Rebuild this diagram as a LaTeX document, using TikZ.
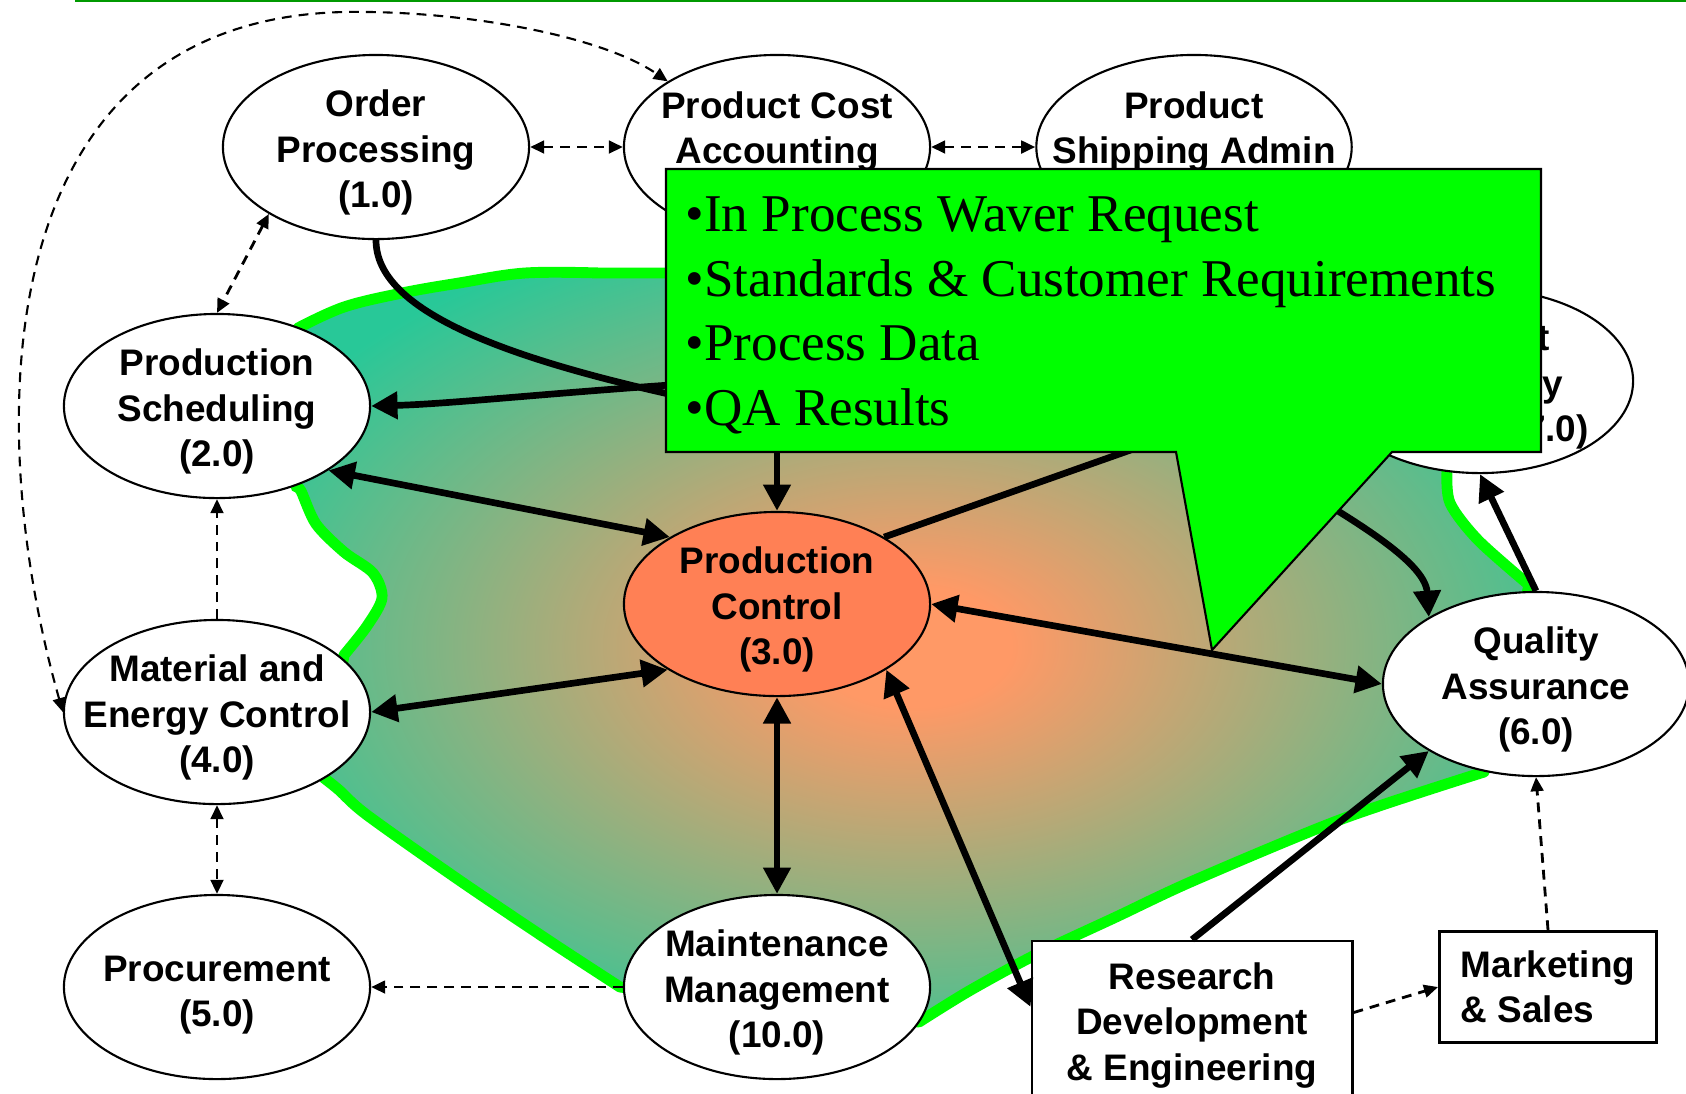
\documentclass[tikz,border=0pt]{standalone}
\usepackage{fontspec}
\setmainfont{Liberation Serif}
\setsansfont{Liberation Sans}
\usetikzlibrary{shapes.geometric, arrows.meta}

\definecolor{blobin}{RGB}{255,153,102}
\definecolor{blobout}{RGB}{40,200,152}
\definecolor{ctrlfill}{RGB}{255,128,85}
\definecolor{notegreen}{RGB}{0,255,0}
\definecolor{rulegreen}{RGB}{0,153,0}

\pgfdeclareradialshading{blobshade}{\pgfpointorigin}{color(0bp)=(blobin); color(4bp)=(blobin); color(30bp)=(blobout); color(100bp)=(blobout)}

\newcommand{\procfont}{\sffamily\bfseries\fontsize{10.5}{12.86}\selectfont}
\newcommand{\notefont}{\rmfamily\fontsize{15.1}{18.35}\selectfont}
\newcommand{\liftline}[1][10.8pt]{\rule{0pt}{#1}}

\tikzset{
	proc/.style={ellipse, draw, line width=0.6pt, fill=white, minimum width=3.06cm, minimum height=1.84cm, inner xsep=-0.3cm, inner ysep=-0.1cm, align=center, font=\procfont},
	ext/.style={rectangle, draw, line width=0.8pt, fill=white, inner sep=0pt, align=center, font=\procfont},
	flow/.style={line width=1.9pt, >={Triangle[length=7.5pt, width=7.5pt]}},
	info/.style={line width=0.8pt, dash pattern=on 2.8pt off 2pt, >={Triangle[length=4pt, width=3.6pt]}},
}

\begin{document}
\begin{tikzpicture}[x=0.01cm, y=-0.01cm]
	\useasboundingbox (0,0) rectangle (1686,1093);
	\draw[rulegreen, line width=0.6pt] (75,1) -- (1686,1);
	
	% production area
	\shadedraw[shading=blobshade, draw=notegreen, line width=3.1pt, line join=round]
		plot[smooth, tension=0.6] coordinates {(298,328) (344,307) (402,293) (459,283) (525,273) (600,273)}
		-- (1150,273) -- (1420,300) -- (1440,452)
		-- plot[smooth] coordinates {(1447,471) (1450,503) (1478,540) (1529,585)}
		-- (1484,772)
		-- plot[smooth] coordinates {(1484,772) (1342,819) (1195,880) (1116,917) (1037,954) (969,991) (919,1022)}
		-- (620,987)
		-- plot[smooth] coordinates {(620,987) (551,942) (459,880) (367,815) (339,790) (324,778)}
		-- (344,655)
		-- plot[smooth] coordinates {(344,655) (367,626) (382,598) (373,573) (344,552) (316,524) (301,491) (296,487)}
		-- cycle;
	
	\node[proc] (op) at (376,147) {\liftline Order\\Processing\\(1.0)};
	\node[proc] (pca) at (777,147) {\liftline[9.4pt]Product Cost\\Accounting\\\mbox{}};
	\node[proc] (psa) at (1194,147) {\liftline[9.4pt]Product\\Shipping Admin\\\mbox{}};
	\node[proc] (pic) at (1480,381) {\liftline Product\\Inventory\\Control (7.0)};
	\node[proc] (ps) at (217,406) {\liftline Production\\Scheduling\\(2.0)};
	\node[proc, fill=ctrlfill] (pc) at (777,604) {\liftline Production\\Control\\(3.0)};
	\node[proc] (mec) at (217,712) {\liftline Material and\\Energy Control\\(4.0)};
	\node[proc] (qa) at (1536,684) {\liftline Quality\\Assurance\\(6.0)};
	\node[proc] (pur) at (217,987) {\liftline[12pt]Procurement\\(5.0)};
	\node[proc] (mm) at (777,987) {\liftline Maintenance\\Management\\(10.0)};
	\node[ext, minimum width=3.2cm, minimum height=1.6cm] (rde) at (1192,1021) {\liftline[10.1pt]Research\\Development\\\& Engineering};
	\node[ext, align=left, minimum width=2.17cm, minimum height=1.11cm] (ms) at (1548,987) {Marketing\\\& Sales};
	
	\coordinate (opend) at (720,405);
	\coordinate (psin) at (700,383);
	\coordinate (qain) at (1270,470);
	
	% information flows
	\draw[info, <->] (op.east) -- (pca.west);
	\draw[info, <->] (pca.east) -- (psa.west);
	\draw[info, <->] (op.212) -- (ps.north);
	\draw[info, ->] (mec.north) -- (ps.south);
	\draw[info, <->] (mec.south) -- (pur.north);
	\draw[info, ->] (mm.west) -- (pur.east);
	\draw[info, ->] (rde.3) -- (ms.west);
	\draw[info, ->] (ms.north) -- (qa.south);
	\draw[info, line width=0.6pt, <->] (mec.west) .. controls (-20,420) and (-10,20) .. (344,12) .. controls (460,10) and (600,35) .. (pca.149);
	
	% production flows
	\draw[flow] (op.south) .. controls (376,310) and (500,360) .. (opend);
	\draw[flow, ->] (psin) .. controls (560,392) and (450,404) .. (ps.east);
	\draw[flow, ->] (pca.south) -- (pc.north);
	\draw[flow, <->] (ps.-30) -- (pc.148);
	\draw[flow, <->] (mec.east) -- (pc.211);
	\draw[flow, <->] (pc.south) -- (mm.north);
	\draw[flow, <->] (pc.east) -- (qa.west);
	\draw[flow, <->] (pc.-31) -- (rde.175);
	\draw[flow, ->] (pc.32) -- (pic.west);
	\draw[flow, ->] (qain) .. controls (1345,515) and (1425,560) .. (qa.148);
	\draw[flow, ->] (qa.north) -- (pic.south);
	\draw[flow, ->] (rde.north) -- (qa.212);
	
	% callout
	\draw[fill=notegreen, line width=0.6pt] (666,169) -- (1541,169) -- (1541,452) -- (1392,452) -- (1212,650) -- (1176,452) -- (666,452) -- cycle;
	\node[anchor=north west, inner sep=0pt, align=left, font=\notefont] (notes) at (685,196) {•In Process Waver Request\\•Standards \& Customer Requirements\\•Process Data\\•QA Results};
\end{tikzpicture}
\end{document}
